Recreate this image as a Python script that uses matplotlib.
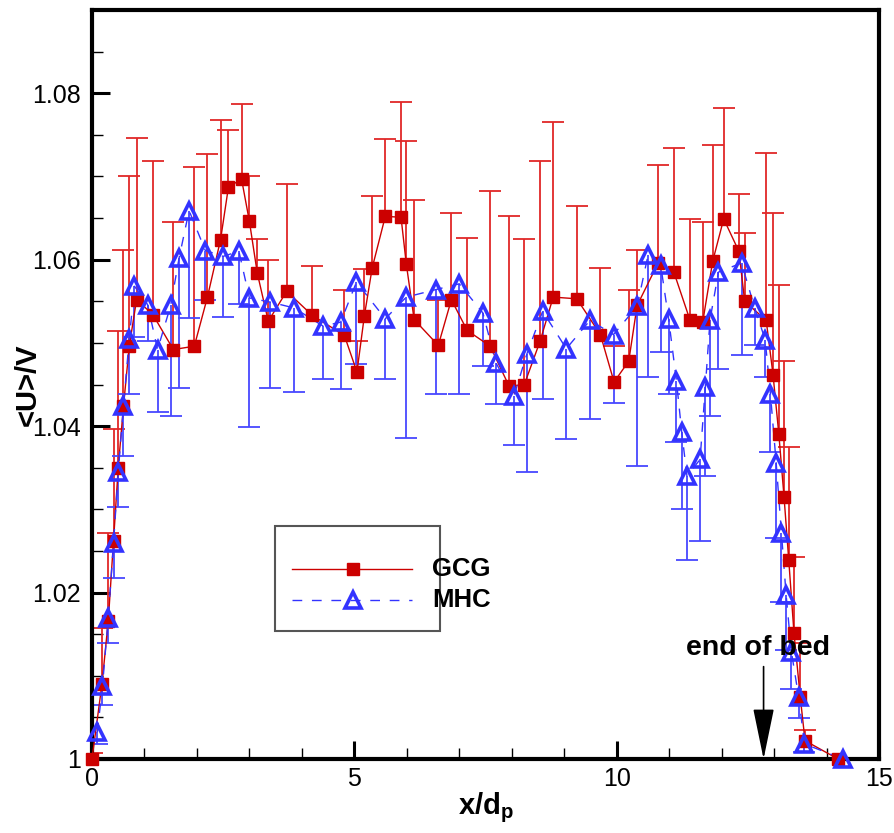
import matplotlib
matplotlib.use("Agg")
import matplotlib.pyplot as plt
import numpy as np
from matplotlib.patches import Rectangle

plt.rcParams['font.family'] = ['Liberation Sans', 'DejaVu Sans']
plt.rcParams['mathtext.fontset'] = 'custom'
plt.rcParams['mathtext.rm'] = 'Liberation Sans'
plt.rcParams['mathtext.bf'] = 'Liberation Sans:bold'
plt.rcParams['mathtext.it'] = 'Liberation Sans:italic'

# ---- data: GCG (red squares, upward error bars) ----
gcg_x = [0.00, 0.19, 0.31, 0.41, 0.50, 0.60, 0.71, 0.85, 1.16, 1.55, 1.95, 2.20, 2.45,
         2.60, 2.85, 3.00, 3.15, 3.36, 3.71, 4.20, 4.81, 5.05, 5.19, 5.34, 5.59, 5.89,
         5.99, 6.14, 6.60, 6.85, 7.15, 7.59, 7.95, 8.24, 8.54, 8.79, 9.24, 9.69, 9.95,
         10.23, 10.39, 10.79, 11.09, 11.40, 11.64, 11.83, 12.04, 12.33, 12.44, 12.85,
         12.98, 13.09, 13.19, 13.28, 13.38, 13.50, 13.59, 14.22]
gcg_y = [1.0000, 1.0090, 1.0166, 1.0262, 1.0350, 1.0424, 1.0496, 1.0552, 1.0534, 1.0492,
         1.0496, 1.0555, 1.0624, 1.0687, 1.0697, 1.0646, 1.0584, 1.0526, 1.0562, 1.0533,
         1.0509, 1.0465, 1.0532, 1.0590, 1.0652, 1.0651, 1.0595, 1.0528, 1.0497, 1.0552,
         1.0515, 1.0496, 1.0448, 1.0450, 1.0502, 1.0555, 1.0553, 1.0510, 1.0453, 1.0478,
         1.0545, 1.0596, 1.0585, 1.0527, 1.0525, 1.0598, 1.0649, 1.0610, 1.0550, 1.0527,
         1.0462, 1.0391, 1.0315, 1.0239, 1.0151, 1.0074, 1.0022, 1.0000]
gcg_err = [0.0007, 0.0068, 0.0106, 0.0135, 0.0164, 0.0188, 0.0204, 0.0194, 0.0184, 0.0153,
           0.0215, 0.0172, 0.0144, 0.0069, 0.0090, 0.0054, 0.0041, 0.0074, 0.0129, 0.0059,
           0.0055, 0.0037, 0.0057, 0.0086, 0.0093, 0.0138, 0.0148, 0.0144, 0.0054, 0.0104,
           0.0111, 0.0186, 0.0205, 0.0175, 0.0216, 0.0211, 0.0112, 0.0080, 0.0043, 0.0086,
           0.0067, 0.0118, 0.0149, 0.0122, 0.0120, 0.0140, 0.0133, 0.0069, 0.0082, 0.0201,
           0.0194, 0.0178, 0.0163, 0.0136, 0.0092, 0.0065, 0.0013, 0.0000]

# ---- data: MHC (blue triangles, downward error bars) ----
mhc_x = [0.10, 0.20, 0.31, 0.41, 0.50, 0.60, 0.71, 0.81, 1.06, 1.25, 1.50, 1.66, 1.85,
         2.16, 2.50, 2.80, 3.00, 3.40, 3.85, 4.41, 4.74, 5.04, 5.59, 5.99, 6.55, 7.00,
         7.45, 7.70, 8.04, 8.29, 8.59, 9.04, 9.49, 9.94, 10.39, 10.60, 10.84, 10.99,
         11.14, 11.24, 11.34, 11.59, 11.69, 11.78, 11.94, 12.38, 12.63, 12.83, 12.93,
         13.04, 13.14, 13.23, 13.33, 13.47, 13.58, 14.32]
mhc_y = [1.0032, 1.0088, 1.0170, 1.0259, 1.0345, 1.0424, 1.0505, 1.0568, 1.0546, 1.0492,
         1.0545, 1.0602, 1.0659, 1.0611, 1.0604, 1.0610, 1.0554, 1.0549, 1.0542, 1.0520,
         1.0525, 1.0573, 1.0529, 1.0555, 1.0564, 1.0571, 1.0536, 1.0476, 1.0436, 1.0487,
         1.0538, 1.0493, 1.0527, 1.0510, 1.0544, 1.0606, 1.0593, 1.0529, 1.0454, 1.0393,
         1.0340, 1.0360, 1.0447, 1.0528, 1.0585, 1.0596, 1.0542, 1.0504, 1.0439, 1.0356,
         1.0272, 1.0197, 1.0129, 1.0074, 1.0018, 1.0000]
mhc_err = [0.0014, 0.0023, 0.0031, 0.0041, 0.0042, 0.0060, 0.0066, 0.0061, 0.0044, 0.0075,
           0.0133, 0.0156, 0.0129, 0.0059, 0.0073, 0.0063, 0.0155, 0.0103, 0.0101, 0.0063,
           0.0081, 0.0098, 0.0072, 0.0169, 0.0125, 0.0133, 0.0064, 0.0049, 0.0059, 0.0142,
           0.0105, 0.0109, 0.0118, 0.0082, 0.0192, 0.0147, 0.0104, 0.0091, 0.0073, 0.0093,
           0.0101, 0.0098, 0.0107, 0.0116, 0.0116, 0.0111, 0.0044, 0.0045, 0.0070, 0.0090,
           0.0083, 0.0066, 0.0045, 0.0025, 0.0010, 0.0000]

x_ticks = [0, 5, 10, 15]
y_ticks = [1.00, 1.02, 1.04, 1.06, 1.08]
y_tick_labels = ['1', '1.02', '1.04', '1.06', '1.08']

RED = '#cc0000'
BLUE = '#3333ff'

fig = plt.figure(figsize=(8.95, 8.33), dpi=100)
ax = fig.add_axes([92/895, 74/833, 787/895, 749/833])

gx, gy, ge = np.array(gcg_x), np.array(gcg_y), np.array(gcg_err)
mx, my, me = np.array(mhc_x), np.array(mhc_y), np.array(mhc_err)

# error bars (one-sided)
ax.vlines(gx, gy, gy + ge, colors='#e02828', lw=1.3, zorder=2)
ax.plot(gx, gy + ge, ls='none', marker='_', ms=16.5, mew=1.3, color='#e02828', zorder=2)
ax.vlines(mx, my - me, my, colors='#4848ff', lw=1.3, zorder=2.5)
ax.plot(mx, my - me, ls='none', marker='_', ms=16.5, mew=1.3, color='#4848ff', zorder=2.5)

# lines
ax.plot(gx, gy, '-', color=RED, lw=1.0, zorder=3)
ax.plot(mx, my, '--', color=BLUE, lw=1.0, dashes=(7, 7), zorder=3)

# markers
ax.plot(gx, gy, ls='none', marker='s', ms=8.5, color=RED, mec=RED, zorder=4, clip_on=False)
ax.plot(mx, my, ls='none', marker='^', ms=11, mfc='none', mec=BLUE, mew=2.6, zorder=5,
        clip_on=False)

ax.set_xlim(0, 15)
ax.set_ylim(1.0, 1.09)
ax.set_xticks(x_ticks)
ax.set_xticklabels([str(t) for t in x_ticks])
ax.set_yticks(y_ticks)
ax.set_yticklabels(y_tick_labels)
ax.set_xticks(np.arange(0, 15.01, 1), minor=True)
ax.set_yticks(np.arange(1.0, 1.0901, 0.005), minor=True)
ax.tick_params(which='major', direction='in', length=13, width=2.2, labelsize=18, pad=6)
ax.tick_params(which='minor', direction='in', length=8, width=1.0)
ax.tick_params(axis='y', which='major', pad=8)
for s in ax.spines.values():
    s.set_linewidth(3)

ax.set_xlabel(r'$\mathbf{x/d_p}$', fontsize=21, labelpad=-1)
ax.set_ylabel('<U>/V', fontsize=21, fontweight='bold')
ax.yaxis.set_label_coords(-0.064, 0.5)

# "end of bed" annotation
ax.text(12.70, 1.0133, 'end of bed', fontsize=20.5, fontweight='bold', ha='center',
        va='center', zorder=10)
ax.annotate('', xy=(12.8, 1.0), xytext=(12.8, 1.0111),
            arrowprops=dict(arrowstyle='-|>,head_length=1.6,head_width=0.33',
                            mutation_scale=20, color='black', lw=1.2, shrinkA=0, shrinkB=0),
            zorder=10)

# legend drawn in axes coordinates
tr = ax.transAxes
ax.add_patch(Rectangle((0.2325, 0.1713), 0.2095, 0.1402, transform=tr, fill=False,
                       ec='#555555', lw=1.5, zorder=6))
ax.plot([0.254, 0.4066], [0.2537, 0.2537], '-', color=RED, lw=1.0, transform=tr, zorder=7)
ax.plot([0.3316], [0.2537], 's', ms=8.5, color=RED, transform=tr, zorder=7)
ax.plot([0.254, 0.4066], [0.2123, 0.2123], '--', color=BLUE, lw=1.0, dashes=(7, 7),
        transform=tr, zorder=7)
ax.plot([0.3316], [0.2123], '^', ms=11, mfc='none', mec=BLUE, mew=2.6, transform=tr, zorder=7)
ax.text(0.432, 0.2537, 'GCG', fontsize=18.5, fontweight='bold', va='center', ha='left',
        transform=tr, zorder=7)
ax.text(0.432, 0.2123, 'MHC', fontsize=18.5, fontweight='bold', va='center', ha='left',
        transform=tr, zorder=7)

fig.savefig('out.png', dpi=100)
